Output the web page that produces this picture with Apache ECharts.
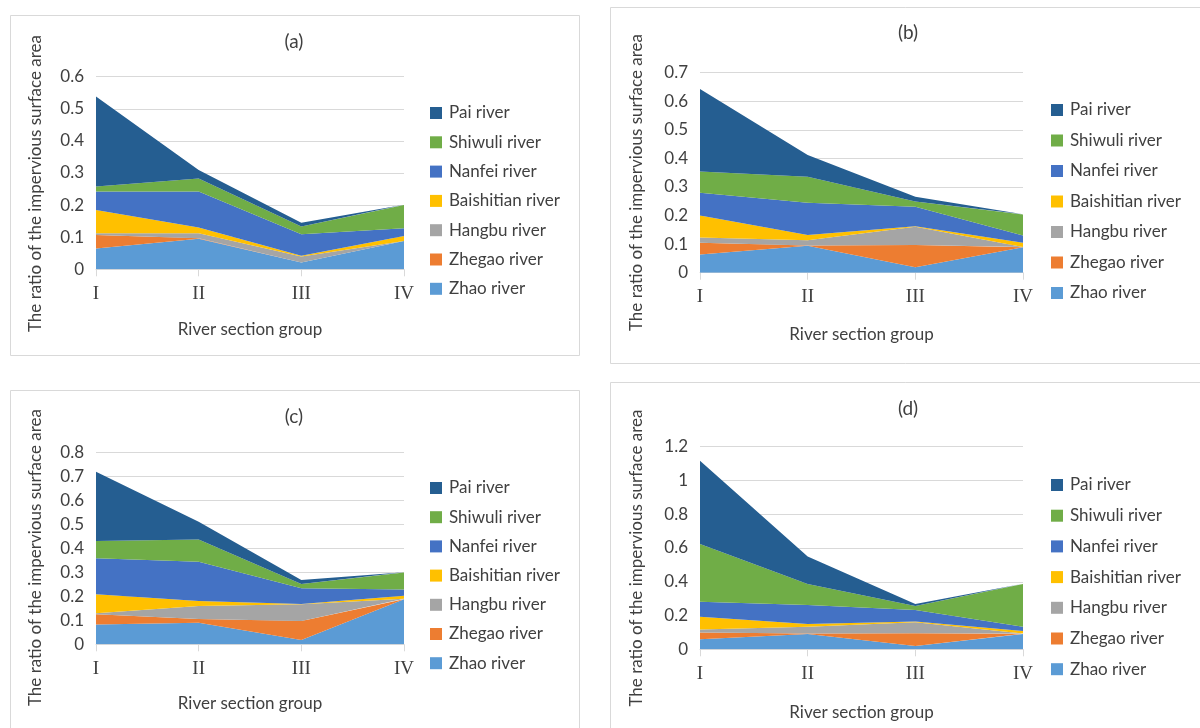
<!DOCTYPE html>
<html>
<head>
<meta charset="utf-8">
<script src="https://cdn.jsdelivr.net/npm/echarts@6/dist/echarts.min.js"></script>
<style>html,body{margin:0;padding:0;background:#fff;}#chart{width:1200px;height:728px;}</style>
</head>
<body>
<div id="chart"></div>
<script>
// ---- data ----
const categories = ['I', 'II', 'III', 'IV'];
const panelLabels = ['(a)', '(b)', '(c)', '(d)'];
const yMax = [0.6, 0.7, 0.8, 1.2];
const yStep = [0.1, 0.1, 0.1, 0.2];
const riverNames = ['Zhao river', 'Zhegao river', 'Hangbu river', 'Baishitian river', 'Nanfei river', 'Shiwuli river', 'Pai river'];
// each river: values for panels (a),(b),(c),(d) at groups I..IV
const zhaoRiver = [
  [0.065, 0.095, 0.021, 0.088],
  [0.064, 0.094, 0.019, 0.089],
  [0.083, 0.090, 0.018, 0.188],
  [0.059, 0.091, 0.020, 0.091]
];
const zhegaoRiver = [
  [0.042, 0.002, 0.000, 0.000],
  [0.041, 0.001, 0.078, 0.000],
  [0.042, 0.016, 0.079, 0.000],
  [0.040, 0.002, 0.075, 0.001]
];
const hangbuRiver = [
  [0.005, 0.015, 0.019, 0.000],
  [0.018, 0.019, 0.064, 0.001],
  [0.005, 0.054, 0.070, 0.002],
  [0.019, 0.041, 0.065, 0.002]
];
const baishitianRiver = [
  [0.073, 0.018, 0.002, 0.016],
  [0.077, 0.018, 0.002, 0.015],
  [0.079, 0.021, 0.001, 0.013],
  [0.075, 0.016, 0.004, 0.015]
];
const nanfeiRiver = [
  [0.057, 0.112, 0.067, 0.024],
  [0.080, 0.113, 0.068, 0.025],
  [0.150, 0.164, 0.066, 0.026],
  [0.089, 0.112, 0.069, 0.025]
];
const shiwuliRiver = [
  [0.016, 0.041, 0.024, 0.072],
  [0.074, 0.091, 0.018, 0.074],
  [0.072, 0.093, 0.018, 0.071],
  [0.342, 0.125, 0.024, 0.253]
];
const paiRiver = [
  [0.280, 0.026, 0.012, 0.001],
  [0.289, 0.076, 0.017, 0.001],
  [0.289, 0.074, 0.016, 0.001],
  [0.493, 0.162, 0.011, 0.001]
];
const riverData = [zhaoRiver, zhegaoRiver, hangbuRiver, baishitianRiver, nanfeiRiver, shiwuliRiver, paiRiver];

// ---- styles / layout ----
const colors = ['#5B9BD5', '#ED7D31', '#A5A5A5', '#FFC000', '#4472C4', '#70AD47', '#255E91'];
const txt = '#404040';
const font = 'Lato, "Open Sans", sans-serif';
const layout = [
  {grid: {left: 96, top: 76.7, width: 308, height: 192.6}, legend: {left: 430, top: 103, gap: 9.3}, title: [294, 42], yTitle: [36, 183.5], xGap: 60, border: [10, 15, 569, 340]},
  {grid: {left: 700, top: 72.7, width: 323, height: 200}, legend: {left: 1051, top: 100, gap: 10.5}, title: [908, 33], yTitle: [637, 182.5], xGap: 62, border: [610, 7, 600, 356]},
  {grid: {left: 96, top: 452.7, width: 308, height: 191.6}, legend: {left: 430, top: 478, gap: 9.2}, title: [294, 417], yTitle: [36, 557.5], xGap: 59, border: [10, 390, 569, 345]},
  {grid: {left: 700, top: 446.7, width: 323, height: 202.6}, legend: {left: 1051, top: 475, gap: 10.7}, title: [908, 409], yTitle: [637, 558], xGap: 63, border: [610, 382, 600, 350]}
];

const grids = [], xAxes = [], yAxes = [], series = [], legends = [], graphics = [];
layout.forEach((L, p) => {
  grids.push(Object.assign({containLabel: false}, L.grid));
  xAxes.push({
    type: 'category', gridIndex: p, data: categories, boundaryGap: false,
    axisLine: {lineStyle: {color: '#d9d9d9', width: 1}},
    axisTick: {show: true, length: 7, lineStyle: {color: '#d9d9d9'}},
    axisLabel: {margin: 15, color: txt, fontFamily: '"Liberation Serif", serif', fontSize: 19},
    name: 'River section group', nameLocation: 'middle', nameGap: L.xGap,
    nameTextStyle: {color: txt, fontFamily: font, fontSize: 17, verticalAlign: 'middle'}
  });
  yAxes.push({
    type: 'value', gridIndex: p, min: 0, max: yMax[p], interval: yStep[p],
    axisLine: {show: false}, axisTick: {show: false},
    splitLine: {lineStyle: {color: '#d9d9d9', width: 1}},
    axisLabel: {margin: 12, color: txt, fontFamily: font, fontSize: 17}
  });
  riverNames.forEach((name, r) => {
    series.push({
      name: name, type: 'line', xAxisIndex: p, yAxisIndex: p, stack: 'panel' + p,
      data: riverData[r][p], symbol: 'none', showSymbol: false,
      lineStyle: {width: 0}, areaStyle: {color: colors[r], opacity: 1},
      itemStyle: {color: colors[r]}, emphasis: {disabled: true}, animation: false
    });
  });
  legends.push({
    orient: 'vertical', left: L.legend.left, top: L.legend.top, itemGap: L.legend.gap,
    padding: 0, itemWidth: 12, itemHeight: 12, icon: 'rect', selectedMode: false,
    data: riverNames.slice().reverse(),
    textStyle: {color: txt, fontFamily: font, fontSize: 17, lineHeight: 20, padding: [0, 0, 0, 2]}
  });
  graphics.push({
    type: 'rect', shape: {x: L.border[0] + 0.5, y: L.border[1] + 0.5, width: L.border[2], height: L.border[3]},
    style: {fill: 'none', stroke: '#d9d9d9', lineWidth: 1}, z: -1
  });
  graphics.push({
    type: 'text', x: L.title[0], y: L.title[1],
    style: {text: panelLabels[p], fill: txt, font: '19px ' + font, textAlign: 'center', textVerticalAlign: 'middle'}
  });
  graphics.push({
    type: 'text', x: L.yTitle[0], y: L.yTitle[1], rotation: Math.PI / 2,
    style: {text: 'The ratio of the impervious surface area', fill: txt, font: '17px ' + font, textAlign: 'center', textVerticalAlign: 'middle'}
  });
});

const chart = echarts.init(document.getElementById('chart'), null, {renderer: 'canvas'});
chart.setOption({
  backgroundColor: '#ffffff',
  animation: false,
  grid: grids, xAxis: xAxes, yAxis: yAxes, series: series, legend: legends,
  graphic: graphics
});
</script>
</body>
</html>
